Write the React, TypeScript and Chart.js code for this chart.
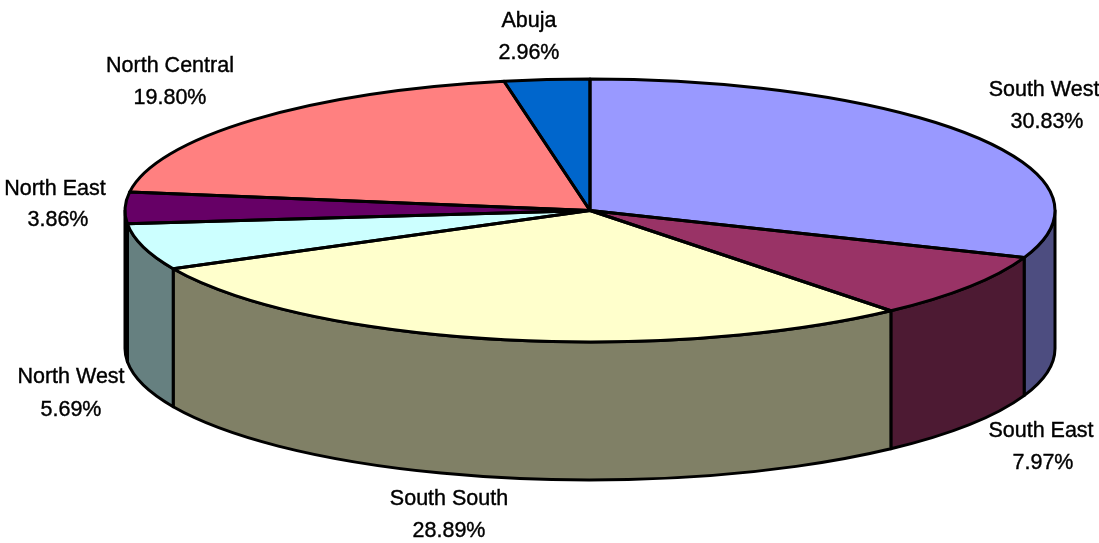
import React, { useEffect, useRef } from "react";
import { Chart, registerables } from "chart.js";

Chart.register(...registerables);

const regions = ["South West", "South East", "South South", "North West", "North East", "North Central", "Abuja"];
const shares = [30.83, 7.97, 28.89, 5.69, 3.86, 19.8, 2.96];
const shareLabels = ["30.83%", "7.97%", "28.89%", "5.69%", "3.86%", "19.80%", "2.96%"];
const topColors = ["#9999FF", "#993366", "#FFFFCC", "#CCFFFF", "#660066", "#FF8080", "#0066CC"];
const wallColors = ["#4D4D80", "#4D1A33", "#808066", "#668080", "#330033", "#804040", "#003366"];

const WIDTH = 1099;
const HEIGHT = 543;
const PIE = { cx: 590, cy: 210.5, rx: 465, ry: 131.5, depth: 138 };
const LINE = 3;
const FONT = '21.5px "Liberation Sans", Arial, sans-serif';
const labelAnchors = [
  [1044, 90, 1047, 122],
  [1041, 431, 1043, 463],
  [449, 499, 449, 531],
  [71, 377, 71, 410],
  [55, 189, 58, 220],
  [170, 66, 170, 98],
  [529, 21, 529, 53],
];

const pie3d = {
  id: "pie3d",
  beforeDatasetsDraw(chart: any) {
    const { ctx } = chart;
    const arcs = chart.getDatasetMeta(0).data;
    const { cx, cy, rx, ry, depth } = PIE;
    ctx.save();
    ctx.lineWidth = LINE;
    ctx.strokeStyle = "#000";
    ctx.lineJoin = "round";
    arcs.forEach((arc: any, i: number) => {
      const a0 = Math.max(arc.startAngle, 0);
      const a1 = Math.min(arc.endAngle, Math.PI);
      if (a1 <= a0) return;
      ctx.beginPath();
      ctx.ellipse(cx, cy, rx, ry, 0, a0, a1);
      ctx.ellipse(cx, cy + depth, rx, ry, 0, a1, a0, true);
      ctx.closePath();
      ctx.fillStyle = wallColors[i];
      ctx.fill();
      ctx.stroke();
    });
    ctx.restore();
    // The library's circular pie is flattened onto the ellipse of the top face.
    const first = arcs[0];
    const r = first.outerRadius;
    ctx.save();
    ctx.translate(cx, cy);
    ctx.scale(rx / r, ry / r);
    ctx.translate(-first.x, -first.y);
  },
  afterDatasetsDraw(chart: any) {
    const { ctx } = chart;
    ctx.restore();
    const arcs = chart.getDatasetMeta(0).data;
    const { cx, cy, rx, ry } = PIE;
    ctx.save();
    ctx.lineWidth = LINE;
    ctx.strokeStyle = "#000";
    ctx.lineJoin = "round";
    arcs.forEach((arc: any) => {
      ctx.beginPath();
      ctx.moveTo(cx, cy);
      ctx.ellipse(cx, cy, rx, ry, 0, arc.startAngle, arc.endAngle);
      ctx.closePath();
      ctx.stroke();
    });
    ctx.restore();
  },
  afterDraw(chart: any) {
    const { ctx } = chart;
    ctx.save();
    ctx.fillStyle = "#000";
    ctx.strokeStyle = "#000";
    ctx.lineWidth = 0.4;
    ctx.font = FONT;
    ctx.textAlign = "center";
    ctx.textBaseline = "middle";
    regions.forEach((name, i) => {
      const [nx, ny, sx, sy] = labelAnchors[i];
      ctx.fillText(name, nx, ny);
      ctx.strokeText(name, nx, ny);
      ctx.fillText(shareLabels[i], sx, sy);
      ctx.strokeText(shareLabels[i], sx, sy);
    });
    ctx.restore();
  },
};

export default function App() {
  const ref = useRef<HTMLCanvasElement | null>(null);
  useEffect(() => {
    if (!ref.current) return;
    const chart = new Chart(ref.current, {
      type: "pie",
      data: {
        labels: regions,
        datasets: [{ data: shares, backgroundColor: topColors, borderWidth: 0, clip: false } as any],
      },
      options: {
        responsive: false,
        animation: false,
        devicePixelRatio: 1,
        layout: { padding: 0 },
        plugins: { legend: { display: false }, tooltip: { enabled: false } },
      },
      plugins: [pie3d],
    } as any);
    return () => chart.destroy();
  }, []);
  return (
    <canvas
      ref={ref}
      width={WIDTH}
      height={HEIGHT}
      style={{ position: "absolute", left: 0, top: 0, display: "block", background: "#fff" }}
    />
  );
}
